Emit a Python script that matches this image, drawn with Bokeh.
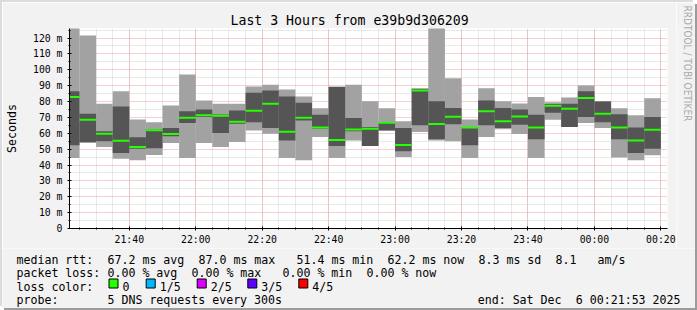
import pandas as pd
from bokeh.plotting import figure
from bokeh.layouts import column, row
from bokeh.models import (Range1d, FixedTicker, DatetimeTickFormatter, ColumnDataSource,
                          Title)
from bokeh.core.properties import value
from bokeh.embed import file_html
from bokeh.resources import INLINE

FONT = "DejaVu Sans Mono"
BG = "#f2f2f2"

# ---------------- data ----------------
bar_end = pd.date_range("2025-12-05 21:25", "2025-12-06 00:20", freq="5min")
bar_start = bar_end - pd.Timedelta(minutes=5)

ping_min = [44.4, 53.8, 51.3, 44.0, 43.0, 46.3, 53.8, 44.4, 53.8, 51.3, 54.5, 61.8,
            59.7, 44.4, 43.0, 57.6, 44.4, 55.5, 52.0, 61.8, 45.0, 60.8, 55.5, 54.9,
            44.4, 57.6, 62.5, 59.5, 44.4, 68.5, 63.9, 66.4, 63.3, 44.8, 43.0, 46.1]
ping_lo = [52.4, 54.5, 54.9, 47.6, 50.3, 50.5, 58.1, 66.4, 70.2, 60.1, 66.0, 67.0,
           63.3, 55.5, 68.1, 62.9, 52.0, 61.2, 52.0, 61.8, 48.6, 65.0, 56.2, 65.6,
           52.4, 65.0, 63.3, 65.4, 56.2, 73.0, 63.9, 70.2, 67.0, 56.2, 47.6, 50.3]
median = [82.8, 68.5, 59.7, 55.3, 51.4, 61.9, 59.5, 69.8, 71.3, 71.1, 67.3, 74.2,
          78.6, 61.0, 69.8, 63.7, 55.7, 62.3, 62.9, 66.6, 52.6, 87.0, 65.8, 70.4,
          63.7, 73.8, 67.5, 70.6, 63.7, 77.4, 75.5, 82.2, 72.3, 63.7, 55.5, 62.2]
ping_hi = [86.4, 72.3, 61.2, 76.9, 57.5, 62.6, 63.3, 73.8, 75.0, 71.8, 74.4, 85.5,
           87.0, 83.2, 79.2, 71.7, 89.1, 69.6, 63.9, 66.8, 63.3, 88.0, 80.1, 75.9,
           63.9, 80.7, 75.9, 75.0, 71.7, 78.4, 78.6, 86.4, 80.0, 71.9, 63.7, 70.2]
ping_max = [130.0, 121.6, 78.6, 86.4, 68.7, 67.0, 77.5, 97.0, 80.7, 78.6, 78.6, 89.5,
            90.6, 87.6, 83.2, 75.7, 89.5, 90.6, 80.1, 75.7, 67.5, 88.2, 130.0, 94.7,
            68.7, 88.4, 80.1, 78.8, 82.8, 79.6, 82.6, 90.1, 80.1, 75.7, 71.3, 82.0]

y_ticks = [0, 10, 20, 30, 40, 50, 60, 70, 80, 90, 100, 110, 120]
y_tick_labels = ["0", "10 m", "20 m", "30 m", "40 m", "50 m", "60 m", "70 m",
                 "80 m", "90 m", "100 m", "110 m", "120 m"]
y_minor = [5, 15, 25, 35, 45, 55, 65, 75, 85, 95, 105, 115, 125]

x_tick_times = pd.date_range("2025-12-05 21:40", "2025-12-06 00:20", freq="20min")
x_minor_times = pd.date_range("2025-12-05 21:25", "2025-12-06 00:20", freq="5min")

loss_labels = ["0", "1/5", "2/5", "3/5", "4/5"]
loss_colors = ["#26ff00", "#00b8ff", "#dd00ff", "#5e00ff", "#ff0000"]

title_text = "Last 3 Hours from e39b9d306209"
legend_rtt = ["median rtt:", "67.2 ms avg", "87.0 ms max", "51.4 ms min",
              "62.2 ms now", "8.3 ms sd", "8.1", "am/s"]
legend_loss = ["packet loss:", "0.00 % avg", "0.00 % max", "0.00 % min", "0.00 % now"]
probe_text = ["probe:", "5 DNS requests every 300s"]
end_text = ["end: Sat Dec", "6 00:21:53 2025"]
watermark = "RRDTOOL / TOBI OETIKER"

# character columns of the legend texts (layout, not data)
rtt_cols = [0, 13, 26, 40, 53, 66, 77, 83]
loss_cols = [0, 13, 25, 38, 50]
probe_cols = [0, 13]


def ms(ts):
    return pd.Timestamp(ts).value / 1e6


# ---------------- main plot ----------------
main = figure(width=674, height=246, output_backend="svg", toolbar_location=None,
              x_axis_type="datetime",
              x_range=Range1d(ms("2025-12-05 21:22:00"), ms("2025-12-06 00:22:00")),
              y_range=Range1d(0, 126),
              min_border_left=65, min_border_right=9, min_border_top=26,
              min_border_bottom=20)
main.background_fill_color = "white"
main.border_fill_color = BG
main.outline_line_color = None

main.title.text = title_text
main.title.align = "left"
main.title.offset = 161
main.title.standoff = 2
main.title.text_font = FONT
main.title.text_font_size = "13.2px"
main.title.text_font_style = "normal"
main.title.text_color = "black"

src = ColumnDataSource(dict(left=bar_start, right=bar_end, mn=ping_min, lo=ping_lo,
                            med=median, hi=ping_hi, mx=ping_max))
main.quad(left="left", right="right", bottom="mn", top="mx", source=src,
          fill_color="#a2a2a2", line_color=None)
main.quad(left="left", right="right", bottom="lo", top="hi", source=src,
          fill_color="#555555", line_color=None)
main.segment(x0="left", x1="right", y0="med", y1="med", source=src,
             line_color="#26ff00", line_width=2)

xt = FixedTicker(ticks=[ms(t) for t in x_tick_times],
                 minor_ticks=[ms(t) for t in x_minor_times])
yt = FixedTicker(ticks=y_ticks, minor_ticks=y_minor)
main.xaxis.ticker = xt
main.yaxis.ticker = yt
main.xgrid.ticker = xt
main.ygrid.ticker = yt
fmt = "%H:%M"
main.xaxis.formatter = DatetimeTickFormatter(seconds=fmt, minsec=fmt, minutes=fmt,
                                             hourmin=fmt, hours=fmt, days=fmt)
main.yaxis.major_label_overrides = {v: s for v, s in zip(y_ticks, y_tick_labels)}

for ax in (main.xaxis, main.yaxis):
    ax.axis_line_color = "black"
    ax.major_tick_line_color = "black"
    ax.minor_tick_line_color = "black"
    ax.major_tick_out = 2
    ax.major_tick_in = 2
    ax.minor_tick_out = 1
    ax.minor_tick_in = 1
    ax.major_label_text_font = FONT
    ax.major_label_text_font_size = "9.8px"
    ax.major_label_text_color = "black"
main.yaxis.major_label_standoff = 5
main.xaxis.major_label_standoff = 3
main.yaxis.axis_label = "Seconds"
main.yaxis.axis_label_text_font = FONT
main.yaxis.axis_label_text_font_size = "11.6px"
main.yaxis.axis_label_text_font_style = "normal"
main.yaxis.axis_label_text_color = "black"
main.yaxis.axis_label_standoff = 11

for g in (main.xgrid, main.ygrid):
    g.grid_line_color = "#eaa0a0"
    g.grid_line_dash = "1 1"
    g.minor_grid_line_color = "#d2d2d2"
    g.minor_grid_line_dash = "1 1"

# ---------------- right strip carrying the vertical watermark ----------------
strip = figure(width=19, height=246, output_backend="svg", toolbar_location=None,
               title=None, x_range=Range1d(0, 1), y_range=Range1d(0, 1),
               x_axis_location=None, y_axis_location=None, min_border=0)
strip.grid.visible = False
strip.outline_line_color = None
strip.background_fill_color = BG
strip.border_fill_color = BG
strip.add_layout(Title(text=watermark, align="left", offset=-23, standoff=4,
                       vertical_align="middle",
                       text_font="Liberation Sans Narrow, DejaVu Sans Condensed, DejaVu Sans Mono",
                       text_font_size="10px", text_font_style="normal",
                       text_color="#aaaaaa"), "right")

# ---------------- legend area below ----------------
leg = figure(width=693, height=60, output_backend="svg", toolbar_location=None,
             title=None, x_range=Range1d(0, 693), y_range=Range1d(60, 0),
             x_axis_location=None, y_axis_location=None, min_border=0)
leg.grid.visible = False
leg.outline_line_color = None
leg.background_fill_color = BG
leg.border_fill_color = BG

CW = 7.0
X0 = 14  # left margin of the legend text (page x 16)


def put(texts, cols, ybase):
    leg.text(x=[X0 + c * CW for c in cols], y=[ybase] * len(texts), text=texts,
             text_font=value(FONT), text_font_size=value("11.6px"),
             text_color="black", text_align="left", text_baseline="alphabetic")


put(legend_rtt, rtt_cols, 11)
put(legend_loss, loss_cols, 24.5)
put(["loss color:"], [0], 38)
put(probe_text, probe_cols, 51.5)
# right-aligned end stamp (two pieces keep the double space of the original)
end_right = 678
leg.text(x=[end_right - 17 * CW, end_right], y=[51.5, 51.5], text=end_text,
         text_font=value(FONT), text_font_size=value("11.6px"), text_color="black",
         text_align="right", text_baseline="alphabetic")

sq_left = [106.5, 143.7, 194.7, 245.3, 296.3]
leg.quad(left=sq_left, right=[s + 9 for s in sq_left], top=[30.5] * 5,
         bottom=[39.5] * 5, fill_color=loss_colors, line_color="black", line_width=1)
leg.text(x=[s + 13.5 for s in sq_left], y=[38] * 5, text=loss_labels,
         text_font=value(FONT), text_font_size=value("11.6px"), text_color="black",
         text_align="left", text_baseline="alphabetic")

root = column(row(main, strip, spacing=0), leg, spacing=0)
root.margin = (2, 0, 0, 2)
root.styles = {"box-shadow": "2px 2px 0 0 #9c9c9c, -2px -2px 0 0 #dcdcdc"}

open("out.html", "w").write(file_html(root, INLINE))
